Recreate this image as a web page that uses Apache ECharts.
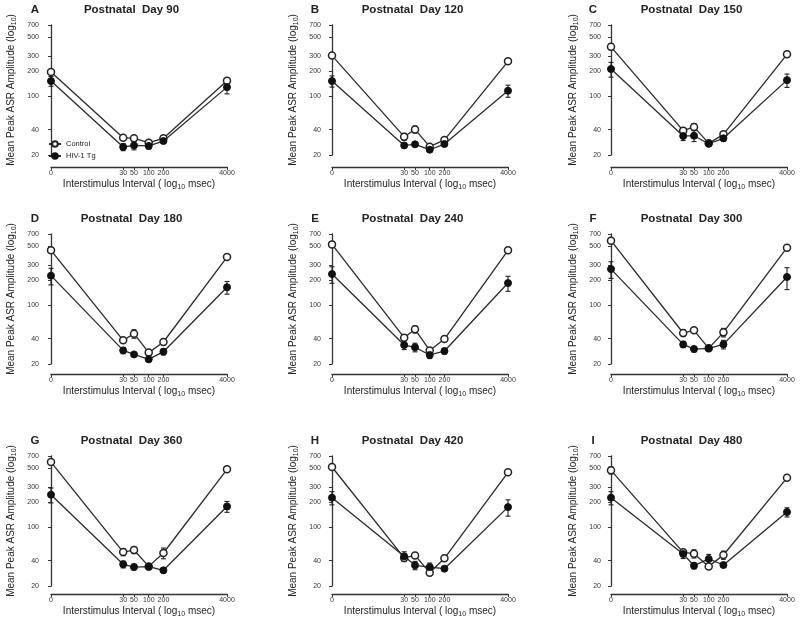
<!DOCTYPE html>
<html><head><meta charset="utf-8">
<script src="https://cdn.jsdelivr.net/npm/echarts@6/dist/echarts.min.js"></script>
<style>html,body{margin:0;padding:0;background:#fff}#c{width:800px;height:625px}</style>
</head><body><div id="c"></div>
<script>
// Interstimulus intervals (msec); 0 is drawn at log10(1)=0
const isi = [0, 30, 50, 100, 200, 4000];
const xTickLabels = ['0', '30', '50', '100', '200', '4000'];
const yTicks = [20, 40, 100, 200, 300, 500, 700];
const letters = ['A', 'B', 'C', 'D', 'E', 'F', 'G', 'H', 'I'];
const days = [90, 120, 150, 180, 240, 300, 360, 420, 480];

const controlMean = [
  [194, 32.1, 31.6, 28.0, 31.6, 152],
  [303, 33.0, 40.3, 25.1, 30.2, 259],
  [385, 38.9, 43.1, 27.5, 35.2, 314],
  [448, 38.2, 45.8, 27.3, 36.5, 373],
  [527, 41.1, 51.6, 29.0, 39.6, 448],
  [583, 46.7, 50.2, 30.7, 47.5, 482],
  [593, 50.6, 53.5, 34.2, 49.3, 486],
  [518, 43.1, 46.2, 28.8, 42.7, 448],
  [473, 50.2, 48.4, 34.2, 46.7, 385]
];
const controlSem = [
  [8, 2, 2.4, 1.3, 1.4, 5],
  [14, 3.1, 3.8, 1.2, 2.0, 14],
  [30, 3, 4, 1.5, 2, 20],
  [30, 2.5, 5.3, 1.5, 2.8, 25],
  [30, 3.1, 4.9, 1.6, 2.6, 25],
  [27, 4.4, 2.8, 1.4, 5.5, 27],
  [33, 4.8, 5, 1.9, 7.2, 27],
  [34, 3.3, 2.1, 2.2, 3.6, 28],
  [45, 3.3, 5.4, 1.9, 5.2, 21]
];
const hivMean = [
  [151, 24.9, 26.0, 25.6, 29.3, 128],
  [151, 26.0, 26.8, 23.1, 27.0, 116],
  [210, 33.6, 33.9, 27.2, 31.6, 155],
  [224, 29.0, 26.0, 22.7, 28.0, 163],
  [234, 33.6, 31.6, 25.6, 28.5, 183],
  [268, 34.2, 30.1, 30.7, 34.2, 216],
  [243, 36.2, 33.6, 33.9, 30.7, 176],
  [224, 45.0, 35.2, 33.6, 32.1, 173],
  [224, 48.0, 34.9, 41.9, 35.5, 151]
];
const hivSem = [
  [20, 2.4, 3.0, 2.0, 1.4, 21.5],
  [23, 1.2, 1.2, 0.9, 1.2, 19],
  [42, 3.9, 5, 1.5, 2.4, 28],
  [50, 2.5, 1.2, 1.0, 2.4, 28],
  [52, 3.9, 3.7, 2.4, 2.2, 37],
  [60, 2.9, 2.3, 1.4, 4, 63],
  [49, 3.4, 2.6, 2.6, 2, 26],
  [40, 6, 4, 3.9, 1.8, 38],
  [40, 5.6, 3, 5.5, 2.3, 19]
];

const colLeft = [51, 332, 611];
const rowTop = [25, 234, 456];
const plotW = 176, plotH = 130;
const yOff = [10, 9, 8];
const xOff = [12, 10, 8];
const FONT = 'Arial, "Liberation Sans", sans-serif';
const INK = '#222';

const lg = v => Math.log10(Math.max(v, 1));
const xVals = isi.map(lg);
const yVals = yTicks.map(v => Math.log10(v));

const grids = [], xAxes = [], yAxes = [], series = [], graphics = [];

function errSeries(i, mean, sem) {
  return {
    type: 'custom', xAxisIndex: i, yAxisIndex: i, z: 1, silent: true, animation: false,
    data: isi.map((x, j) => [lg(x), Math.log10(mean[j] - sem[j]), Math.log10(mean[j] + sem[j])]),
    encode: { x: 0, y: [1, 2] },
    renderItem: (params, api) => {
      const lo = api.coord([api.value(0), api.value(1)]);
      const hi = api.coord([api.value(0), api.value(2)]);
      const hw = 2.5;
      const st = { stroke: INK, lineWidth: 1.1 };
      return { type: 'group', children: [
        { type: 'line', shape: { x1: lo[0], y1: lo[1], x2: hi[0], y2: hi[1] }, style: st },
        { type: 'line', shape: { x1: lo[0] - hw, y1: lo[1], x2: lo[0] + hw, y2: lo[1] }, style: st },
        { type: 'line', shape: { x1: hi[0] - hw, y1: hi[1], x2: hi[0] + hw, y2: hi[1] }, style: st }
      ]};
    }
  };
}

for (let i = 0; i < 9; i++) {
  const r = Math.floor(i / 3), c = i % 3;
  grids.push({ left: colLeft[c], top: rowTop[r], width: plotW, height: plotH });
  xAxes.push({
    type: 'value', gridIndex: i, min: 0, max: lg(4000), offset: xOff[r],
    axisLine: { show: true, lineStyle: { color: '#333', width: 1.3 } },
    axisTick: { show: true, length: 3, customValues: xVals, lineStyle: { color: '#333', width: 1 } },
    axisLabel: {
      customValues: xVals, fontSize: 7, margin: 3, color: '#333', fontFamily: FONT,
      formatter: v => { const k = xVals.findIndex(t => Math.abs(t - v) < 1e-6); return k >= 0 ? xTickLabels[k] : ''; }
    },
    splitLine: { show: false },
    name: 'Interstimulus Interval ( log{s|10} msec)', nameLocation: 'middle', nameGap: 11,
    nameTextStyle: { fontSize: 10, color: INK, fontFamily: FONT, lineHeight: 13,
      rich: { s: { fontSize: 7, lineHeight: 7, verticalAlign: 'bottom', color: INK, fontFamily: FONT } } }
  });
  yAxes.push({
    type: 'value', gridIndex: i, min: Math.log10(20), max: Math.log10(700), offset: yOff[c],
    axisLine: { show: true, lineStyle: { color: '#333', width: 1.3 } },
    axisTick: { show: true, length: 3, customValues: yVals, lineStyle: { color: '#333', width: 1 } },
    axisLabel: {
      customValues: yVals, fontSize: 7, margin: 2, color: '#333', fontFamily: FONT,
      formatter: v => String(Math.round(Math.pow(10, v)))
    },
    splitLine: { show: false },
    name: 'Mean Peak ASR Amplitude (log{s|10})', nameLocation: 'middle', nameGap: 23,
    nameTextStyle: { fontSize: 10, color: INK, fontFamily: FONT, lineHeight: 13,
      rich: { s: { fontSize: 7, lineHeight: 7, verticalAlign: 'bottom', color: INK, fontFamily: FONT } } }
  });
  series.push(errSeries(i, controlMean[i], controlSem[i]));
  series.push(errSeries(i, hivMean[i], hivSem[i]));
  series.push({
    name: 'Control', type: 'line', xAxisIndex: i, yAxisIndex: i, z: 3, animation: false,
    data: isi.map((x, j) => [lg(x), Math.log10(controlMean[i][j])]),
    symbol: 'circle', symbolSize: 7, showSymbol: true,
    lineStyle: { color: '#2a2a2a', width: 1.3 },
    itemStyle: { color: '#fff', borderColor: INK, borderWidth: 1.5 }
  });
  series.push({
    name: 'HIV-1 Tg', type: 'line', xAxisIndex: i, yAxisIndex: i, z: 4, animation: false,
    data: isi.map((x, j) => [lg(x), Math.log10(hivMean[i][j])]),
    symbol: 'circle', symbolSize: 7, showSymbol: true,
    lineStyle: { color: '#2a2a2a', width: 1.3 },
    itemStyle: { color: '#111', borderColor: '#111', borderWidth: 1 }
  });
  const titleY = rowTop[r] - 15.5;
  const cx = colLeft[c] + plotW / 2 - 7.5;
  const letterX = [35, 315, 593][c];
  graphics.push({ type: 'text', x: letterX, y: titleY, style: { text: letters[i], font: 'bold 11.5px ' + FONT, fill: INK, align: 'center', verticalAlign: 'middle' } });
  graphics.push({ type: 'text', x: cx, y: titleY, style: { text: 'Postnatal  Day ' + days[i], font: 'bold 11.5px ' + FONT, fill: INK, align: 'center', verticalAlign: 'middle' } });
}

const chart = echarts.init(document.getElementById('c'), null, { renderer: 'canvas' });
chart.setOption({
  backgroundColor: '#fff',
  animation: false,
  textStyle: { fontFamily: FONT },
  grid: grids, xAxis: xAxes, yAxis: yAxes, series: series, graphic: graphics,
  legend: {
    left: 48, top: 140, orient: 'vertical', padding: 0, itemWidth: 12, itemHeight: 7, itemGap: 4,
    selectedMode: false, data: ['Control', 'HIV-1 Tg'],
    textStyle: { fontSize: 7.5, color: INK, fontFamily: FONT }
  }
});
</script></body></html>
